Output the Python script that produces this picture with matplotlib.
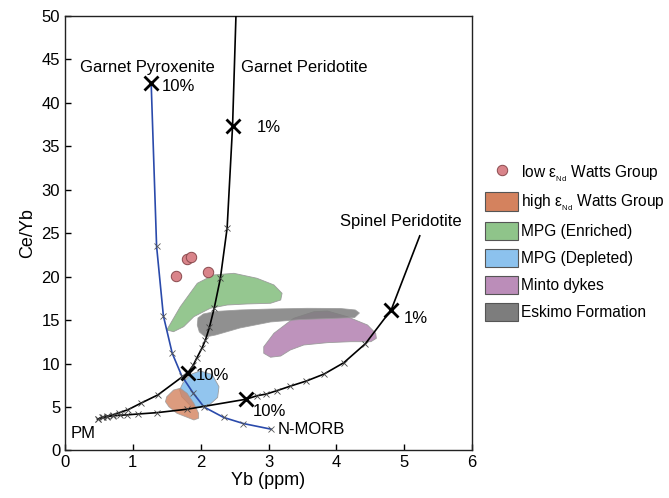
import matplotlib
matplotlib.use("Agg")
import matplotlib.pyplot as plt
from matplotlib.patches import Polygon, Patch
from matplotlib.lines import Line2D

plt.rcParams['font.family'] = ['Liberation Sans', 'DejaVu Sans']
plt.rcParams['mathtext.fontset'] = 'custom'
plt.rcParams['mathtext.rm'] = 'Liberation Sans'
plt.rcParams['mathtext.it'] = 'Liberation Sans:italic'

# ---- data ----
# Garnet pyroxenite melting curve (Yb, Ce/Yb)
gpx_yb = [1.27, 1.35, 1.45, 1.58, 1.72, 1.89, 2.05, 2.34, 2.63, 3.04]
gpx_ceyb = [42.3, 23.5, 15.5, 11.2, 8.6, 6.6, 5.0, 3.8, 3.1, 2.45]
gpx_big_yb = [1.27]
gpx_big_ceyb = [42.3]

# Garnet peridotite melting curve
gpd_yb = [0.48, 0.56, 0.62, 0.70, 0.80, 0.93, 1.12, 1.37, 1.81,
          1.89, 1.94, 2.02, 2.07, 2.13, 2.20, 2.29, 2.39, 2.47, 2.52]
gpd_ceyb = [3.6, 3.8, 3.95, 4.1, 4.35, 4.7, 5.45, 6.4, 8.95,
            9.8, 10.6, 11.8, 12.7, 14.2, 16.4, 19.8, 25.6, 37.3, 50.0]
gpd_big_yb = [1.81, 2.47]
gpd_big_ceyb = [8.95, 37.3]

# Spinel peridotite melting curve
spd_yb = [0.48, 0.54, 0.62, 0.71, 0.81, 0.91, 1.08, 1.35, 1.80, 2.67,
          2.83, 2.97, 3.13, 3.32, 3.56, 3.82, 4.11, 4.43, 4.81, 5.23]
spd_ceyb = [3.6, 3.8, 3.9, 4.0, 4.05, 4.1, 4.2, 4.35, 4.75, 5.9,
            6.3, 6.5, 6.9, 7.4, 8.0, 8.8, 10.1, 12.3, 16.2, 24.7]
spd_big_yb = [2.67, 4.81]
spd_big_ceyb = [5.9, 16.2]

# low eNd Watts Group samples
low_yb = [1.80, 1.86, 1.64, 2.11]
low_ceyb = [22.0, 22.25, 20.1, 20.5]

# Field outlines (Yb, Ce/Yb)
high_watts = [(1.48, 5.62), (1.50, 6.19), (1.60, 6.96), (1.70, 7.16), (1.80, 6.58),
              (1.90, 5.43), (1.97, 4.28), (1.97, 3.71), (1.90, 3.51), (1.80, 3.82),
              (1.65, 4.28), (1.53, 5.04)]
mpg_enriched = [(1.50, 13.87), (1.70, 16.55), (1.95, 19.24), (2.19, 20.20), (2.49, 20.39),
                (2.83, 19.82), (3.08, 19.05), (3.20, 18.09), (3.18, 17.32), (3.03, 16.94),
                (2.68, 16.86), (2.39, 16.74), (2.14, 16.36), (1.90, 15.40), (1.75, 14.25),
                (1.60, 13.67)]
mpg_depleted = [(1.74, 7.8), (1.85, 8.75), (1.99, 9.15), (2.17, 8.75), (2.27, 7.34),
                (2.25, 6.1), (2.14, 5.33), (1.99, 4.95), (1.85, 5.15), (1.72, 6.19),
                (1.69, 6.96)]
minto = [(2.93, 11.94), (3.08, 13.49), (3.37, 15.21), (3.67, 15.97), (3.87, 16.05),
         (4.16, 15.40), (4.46, 14.44), (4.58, 13.49), (4.59, 12.91), (4.51, 12.52),
         (4.21, 12.52), (3.87, 12.41), (3.52, 12.14), (3.32, 11.56), (3.18, 10.87),
         (3.03, 10.73), (2.93, 11.19)]
eskimo = [(1.96, 15.25), (2.04, 15.71), (2.22, 16.00), (2.58, 16.17), (3.03, 16.28),
          (3.57, 16.36), (4.06, 16.34), (4.28, 16.17), (4.34, 15.82), (4.27, 15.30),
          (3.91, 15.19), (3.47, 15.07), (3.03, 14.79), (2.58, 14.10), (2.22, 13.29),
          (2.07, 13.06), (1.98, 13.64), (1.95, 14.44)]

x_ticks = [0, 1, 2, 3, 4, 5, 6]
y_ticks = [0, 5, 10, 15, 20, 25, 30, 35, 40, 45, 50]

c_orange = '#d4825e'
c_green = '#8fc48a'
c_blue = '#8cc2ee'
c_purple = '#bb8db9'
c_gray = '#7d7d7d'
c_circle = '#d9848a'

fig = plt.figure(figsize=(6.69, 4.98), dpi=100)
ax = fig.add_axes([0.0972, 0.0954, 0.6083, 0.8725])

# fields
for pts, col, a in [(mpg_enriched, c_green, 0.95), (minto, c_purple, 0.95),
                    (eskimo, c_gray, 0.85), (mpg_depleted, c_blue, 0.95),
                    (high_watts, c_orange, 0.8)]:
    ax.add_patch(Polygon(pts, closed=True, facecolor=col, edgecolor='#9a9a9a',
                         linewidth=0.6, alpha=a, joinstyle='round', zorder=1))

# circles
ax.plot(low_yb, low_ceyb, 'o', ms=7.5, mfc=c_circle, mec='#8a4a4e', mew=0.7, zorder=2)

# curves
ax.plot(gpx_yb, gpx_ceyb, '-', color='#2a4aab', lw=1.2, zorder=3)
ax.plot(gpx_yb[1:], gpx_ceyb[1:], 'x', color='#555555', ms=5, mew=0.6, zorder=4)
ax.plot(gpd_yb, gpd_ceyb, '-', color='black', lw=1.2, zorder=3)
ax.plot(gpd_yb[:-2], gpd_ceyb[:-2], 'x', color='#444444', ms=5, mew=0.6, zorder=4)
ax.plot(spd_yb, spd_ceyb, '-', color='black', lw=1.2, zorder=3)
ax.plot(spd_yb[:-1], spd_ceyb[:-1], 'x', color='#444444', ms=5, mew=0.6, zorder=4)

for xs, ys in [(gpx_big_yb, gpx_big_ceyb), (gpd_big_yb, gpd_big_ceyb), (spd_big_yb, spd_big_ceyb)]:
    ax.plot(xs, ys, 'x', color='black', ms=9.5, mew=2.0, zorder=5)

fs = 12
ax.text(1.21, 44.1, 'Garnet Pyroxenite', fontsize=fs, ha='center', va='center')
ax.text(1.42, 41.9, '10%', fontsize=fs, ha='left', va='center')
ax.text(2.60, 44.1, 'Garnet Peridotite', fontsize=fs, ha='left', va='center')
ax.text(2.82, 37.2, '1%', fontsize=fs, ha='left', va='center')
ax.text(5.85, 26.3, 'Spinel Peridotite', fontsize=fs, ha='right', va='center')
ax.text(5.00, 15.2, '1%', fontsize=fs, ha='left', va='center')
ax.text(1.93, 8.6, '10%', fontsize=fs, ha='left', va='center')
ax.text(2.77, 4.5, '10%', fontsize=fs, ha='left', va='center')
ax.text(0.08, 1.95, 'PM', fontsize=fs, ha='left', va='center')
ax.text(3.13, 2.4, 'N-MORB', fontsize=fs, ha='left', va='center')

ax.set_xlim(0, 6)
ax.set_ylim(0, 50)
ax.set_xticks(x_ticks)
ax.set_yticks(y_ticks)
ax.tick_params(direction='in', length=4, width=1, labelsize=12, top=False, right=False)
ax.set_xlabel('Yb (ppm)', fontsize=13, labelpad=1)
ax.set_ylabel('Ce/Yb', fontsize=13, labelpad=4)
for s in ax.spines.values():
    s.set_linewidth(1.0)
    s.set_color('#222222')

handles = [
    Line2D([], [], ls='none', marker='o', ms=7.5, mfc=c_circle, mec='#8a4a4e', mew=0.7),
    Patch(facecolor=c_orange, edgecolor='#555555', lw=0.8),
    Patch(facecolor=c_green, edgecolor='#555555', lw=0.8),
    Patch(facecolor=c_blue, edgecolor='#555555', lw=0.8),
    Patch(facecolor=c_purple, edgecolor='#555555', lw=0.8),
    Patch(facecolor=c_gray, edgecolor='#555555', lw=0.8),
]
labels = [
    r'low $\mathregular{\varepsilon_{_{Nd}}}$ Watts Group',
    r'high $\mathregular{\varepsilon_{_{Nd}}}$ Watts Group',
    'MPG (Enriched)',
    'MPG (Depleted)',
    'Minto dykes',
    'Eskimo Formation',
]
fig.legend(handles, labels, loc='upper left', bbox_to_anchor=(0.716, 0.686),
           frameon=False, fontsize=11.2, handlelength=2.1, handleheight=1.45,
           handletextpad=0.2, labelspacing=0.55, borderaxespad=0)

fig.savefig('out.png', dpi=100)
